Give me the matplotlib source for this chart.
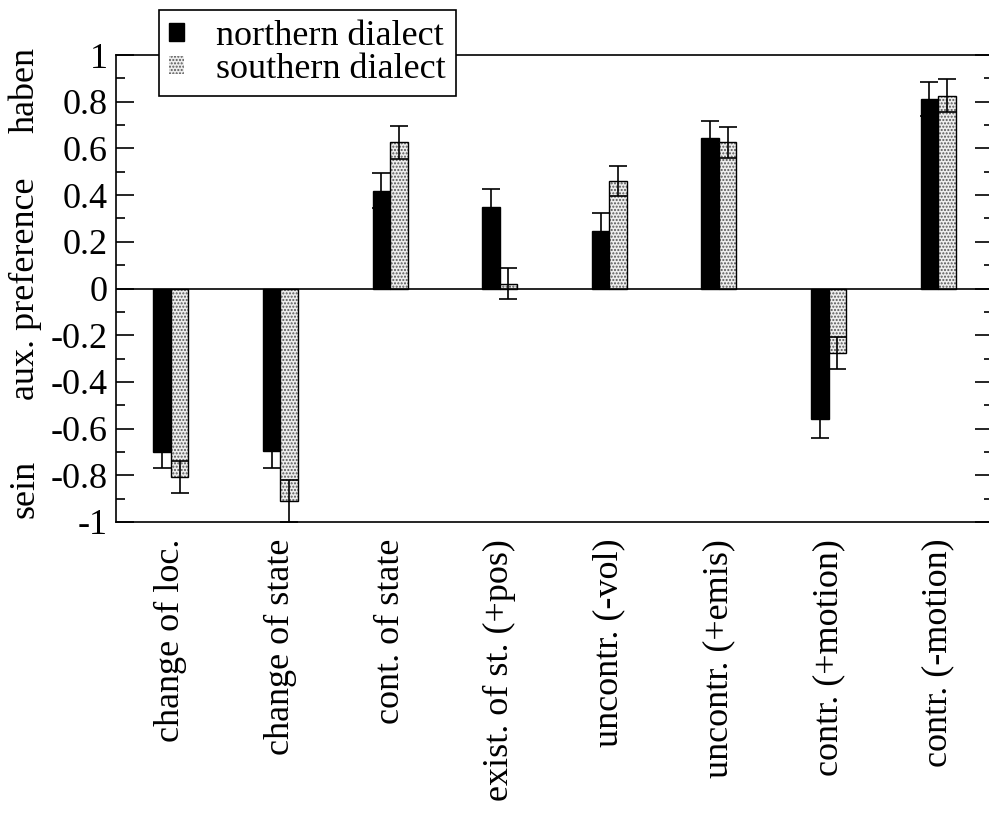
import numpy as np
import matplotlib
matplotlib.use('Agg')
import matplotlib.pyplot as plt
from matplotlib.transforms import blended_transform_factory

kategoriat = ['change of loc.', 'change of state', 'cont. of state', 'exist. of st. (+pos)',
              'uncontr. (-vol)', 'uncontr. (+emis)', 'contr. (+motion)', 'contr. (-motion)']
pohjoinen = [-0.700, -0.697, 0.418, 0.350, 0.246, 0.646, -0.559, 0.813]
pohjoinen_virhe = [0.068, 0.070, 0.075, 0.077, 0.076, 0.070, 0.080, 0.073]
etela = [-0.808, -0.910, 0.626, 0.020, 0.460, 0.626, -0.276, 0.826]
etela_virhe = [0.068, 0.088, 0.072, 0.066, 0.065, 0.066, 0.070, 0.070]
yrivit = [-1, -0.8, -0.6, -0.4, -0.2, 0, 0.2, 0.4, 0.6, 0.8, 1]

plt.rcParams.update({'font.family': 'serif', 'font.serif': ['Liberation Serif', 'DejaVu Serif'],
                     'font.size': 26, 'hatch.linewidth': 1.0})

fig = plt.figure(figsize=(9.89, 8.18), dpi=100)
ax = fig.add_axes([116/989, 1-522/818, 877/989, 467/818])

x = np.arange(1, len(kategoriat)+1)
lev = 0.16
# capsize on puolet viivan pituudesta
ekw = dict(fmt='none', ecolor='k', elinewidth=1.2, capsize=6.2, capthick=1.2, zorder=4)

ax.bar(x - lev/2, pohjoinen, lev, color='k', edgecolor='k', linewidth=1.0,
       label='northern dialect', zorder=2)
ax.bar(x + lev/2, etela, lev, color='#eeeeee', edgecolor='#555555', hatch='.....',
       linewidth=0, label='southern dialect', zorder=2)
ax.bar(x + lev/2, etela, lev, fill=False, edgecolor='k', linewidth=1.0, zorder=3)
ax.errorbar(x - lev/2, pohjoinen, yerr=pohjoinen_virhe, **ekw)
ax.errorbar(x + lev/2, etela, yerr=etela_virhe, **ekw)
ax.axhline(0, color='k', linewidth=1.2, zorder=5)

ax.set_xlim(0.5, 8.5)
ax.set_ylim(-1, 1)
ax.set_yticks(yrivit)
ax.set_yticklabels(['%g' % v for v in yrivit])
ax.set_yticks(np.arange(-0.9, 1.0, 0.2), minor=True)
ax.tick_params(axis='y', which='both', direction='in', left=True, right=True, width=1.2, pad=6)
ax.tick_params(axis='y', which='major', length=13)
ax.tick_params(axis='y', which='minor', length=6.5)
ax.set_xticks(x)
ax.set_xticklabels(kategoriat, rotation=90, va='top')
ax.tick_params(axis='x', length=0, pad=12)
for s in ax.spines.values():
    s.set_linewidth(1.2)

# y-akselin kolmiosainen otsikko
tr = blended_transform_factory(fig.transFigure, ax.transData)
xl = 25/989
ax.text(xl, 1.034, 'haben', rotation=90, ha='center', va='top', transform=tr)
ax.text(xl, 0.0, 'aux. preference', rotation=90, ha='center', va='center', transform=tr)
ax.text(xl, -0.985, 'sein', rotation=90, ha='center', va='bottom', transform=tr)

leg = ax.legend(loc='upper left', bbox_to_anchor=(159/989, 1-10/818),
                bbox_transform=fig.transFigure, borderaxespad=0, fancybox=False,
                framealpha=1, edgecolor='k', handlelength=0.42, handleheight=0.42,
                handletextpad=0.9, labelspacing=0.0, borderpad=0.27)
leg.get_frame().set_linewidth(1.2)
leg.set_zorder(10)

fig.savefig('out.png', dpi=100)
